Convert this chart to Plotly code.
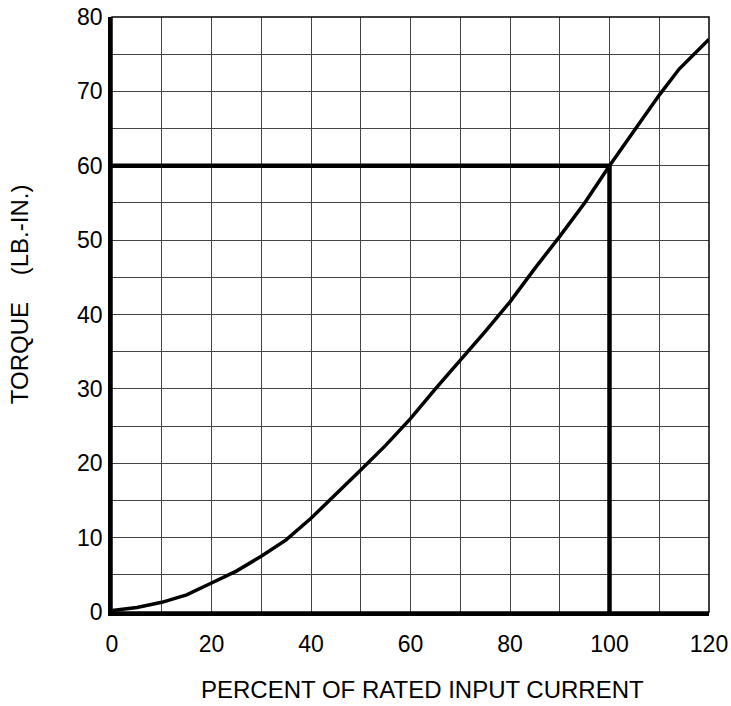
import plotly.graph_objects as go

# Curve data (percent of rated input current vs torque lb-in)
current_pct = [0, 5, 10, 15, 20, 25, 30, 35, 40, 45, 50, 55, 60, 65, 70, 75, 80, 85, 90, 95, 100, 105, 110, 114, 120]
torque = [0.2, 0.6, 1.3, 2.3, 3.9, 5.5, 7.5, 9.7, 12.6, 15.8, 19.1, 22.4, 26.0, 30.0, 33.8, 37.7, 41.7, 46.2, 50.5, 55.0, 60.0, 64.8, 69.5, 73.0, 77.0]

# Reference (rated point) lines
ref_x = [0, 100, 100]
ref_y = [60, 60, 0]

x_ticks = [0, 20, 40, 60, 80, 100, 120]
y_ticks = [0, 10, 20, 30, 40, 50, 60, 70, 80]

FONT = "Liberation Sans, Arial, sans-serif"

fig = go.Figure()
fig.add_trace(go.Scatter(x=ref_x, y=ref_y, mode="lines",
                         line=dict(color="black", width=4.5), hoverinfo="skip"))
fig.add_trace(go.Scatter(x=current_pct, y=torque, mode="lines",
                         line=dict(color="black", width=3.5),
                         hoverinfo="skip"))

fig.update_layout(
    width=731, height=706,
    margin=dict(l=112, r=22, t=17, b=94, autoexpand=False),
    paper_bgcolor="white", plot_bgcolor="white",
    showlegend=False,
    font=dict(family=FONT, size=23, color="black"),
    shapes=[dict(type="rect", xref="paper", yref="paper", x0=0, y0=0, x1=1, y1=1,
                 line=dict(color="black", width=1.5), layer="above")],
    annotations=[
        dict(text="PERCENT OF RATED INPUT CURRENT", xref="paper", yref="paper",
             x=0.52, y=-0.131, xanchor="center", yanchor="middle", showarrow=False,
             font=dict(family=FONT, size=24, color="black")),
        dict(text="TORQUE    (LB.-IN.)", xref="paper", yref="paper",
             x=-0.155, y=0.535, xanchor="center", yanchor="middle", showarrow=False,
             textangle=-90, font=dict(family=FONT, size=24, color="black")),
    ],
)

fig.update_xaxes(range=[0, 120], tickvals=x_ticks, ticktext=[str(v) for v in x_ticks],
                 showgrid=True, gridcolor="#444", gridwidth=1,
                 minor=dict(dtick=10, tick0=0, showgrid=True, gridcolor="#444", gridwidth=1),
                 showline=True, linecolor="black", linewidth=3.5, automargin=False,
                 ticks="", ticklabelstandoff=9, zeroline=False, fixedrange=True)
fig.update_yaxes(range=[0, 80], tickvals=y_ticks, ticktext=[str(v) for v in y_ticks],
                 showgrid=True, gridcolor="#444", gridwidth=1,
                 minor=dict(dtick=5, tick0=0, showgrid=True, gridcolor="#444", gridwidth=1),
                 showline=True, linecolor="black", linewidth=3.5, automargin=False,
                 ticks="", ticklabelstandoff=1, zeroline=False, fixedrange=True)

fig.write_html("out.html", config={"displayModeBar": False},
               post_script="document.body.style.margin='0px';")
